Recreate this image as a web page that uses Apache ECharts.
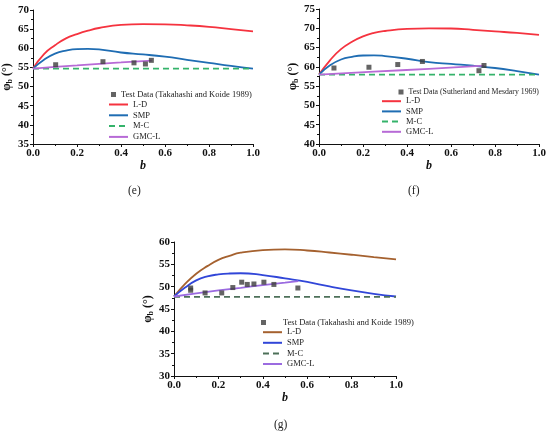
<!DOCTYPE html>
<html><head><meta charset="utf-8">
<script src="https://cdn.jsdelivr.net/npm/echarts/dist/echarts.min.js"></script>
<style>html,body{margin:0;padding:0;background:#fff}#c{width:550px;height:434px}</style>
</head><body><div id="c"></div>
<script>
// ---------- data ----------
const xTickLabels = ['0.0','0.2','0.4','0.6','0.8','1.0'];
const curveB = [0, 0.05, 0.1, 0.15, 0.2, 0.25, 0.3, 0.4, 0.5, 0.6, 0.7, 0.8, 0.9, 1.0];

// (e)
const eLD  = [54.7, 58.5, 60.8, 62.6, 63.7, 64.6, 65.3, 66.1, 66.3, 66.25, 66.0, 65.6, 65.0, 64.4];
const eSMP = [54.7, 57.0, 58.6, 59.4, 59.8, 59.85, 59.7, 58.9, 58.4, 57.8, 57.0, 56.2, 55.4, 54.7];
const eMCB = [0, 1];
const eMC  = [54.7, 54.7];
const eGMCB = [0, 0.1, 0.2, 0.3, 0.4, 0.54];
const eGMC  = [54.7, 55.15, 55.55, 55.95, 56.3, 56.8];
const eTestB = [0.103, 0.318, 0.459, 0.511, 0.538];
const eTestV = [55.7, 56.5, 56.2, 55.9, 56.85];

// (f)
const fLD  = [58.0, 61.7, 64.6, 66.5, 67.9, 68.8, 69.3, 69.85, 70.0, 69.95, 69.6, 69.2, 68.8, 68.3];
const fSMP = [58.0, 60.4, 61.9, 62.6, 62.95, 63.0, 62.8, 62.1, 61.25, 60.75, 60.3, 59.7, 58.9, 58.0];
const fMCB = [0, 1];
const fMC  = [58.0, 58.0];
const fGMCB = [0, 0.25, 0.5, 0.75];
const fGMC  = [58.0, 58.75, 59.5, 60.3];
const fTestB = [0.068, 0.227, 0.358, 0.47, 0.727, 0.75];
const fTestV = [59.7, 59.9, 60.6, 61.4, 59.0, 60.35];

// (g)
const gLD  = [47.8, 50.6, 52.9, 54.6, 56.0, 56.9, 57.6, 58.2, 58.35, 58.1, 57.65, 57.15, 56.6, 56.1];
const gSMP = [47.8, 49.8, 51.4, 52.3, 52.75, 52.95, 53.0, 52.6, 51.85, 51.05, 50.05, 49.15, 48.4, 47.8];
const gMCB = [0, 1];
const gMC  = [47.7, 47.7];
const gGMCB = [0, 0.1, 0.2, 0.3, 0.4, 0.5, 0.56];
const gGMC  = [47.8, 48.5, 49.15, 49.75, 50.35, 50.9, 51.25];
const gTestB = [0.075, 0.075, 0.14, 0.215, 0.265, 0.305, 0.33, 0.36, 0.405, 0.45, 0.558];
const gTestV = [49.7, 49.2, 48.6, 48.6, 49.8, 51.0, 50.5, 50.6, 51.0, 50.5, 49.7];

const yRanges = [[35, 70], [40, 75], [30, 60]];
const testNames = ['Test Data (Takahashi and Koide 1989)', 'Test Data (Sutherland and Mesdary 1969)', 'Test Data (Takahashi and Koide 1989)'];
const lineNames = ['L-D', 'SMP', 'M-C', 'GMC-L'];
const captions = ['(e)', '(f)', '(g)'];

// ---------- styling ----------
const FONT = 'Liberation Serif';
const palettes = [
  ['#f5333f', '#1f6db3', '#35b36b', '#b76ad6'],
  ['#f5333f', '#1f6db3', '#35b36b', '#b76ad6'],
  ['#a5612f', '#3146d8', '#4d7059', '#9b6be0']
];
const grids = [
  {left: 33, top: 10, width: 220, height: 134},
  {left: 319, top: 9, width: 220, height: 135},
  {left: 174, top: 242, width: 222, height: 134}
];
const legendPos = [
  {sq: [111, 90], sqPad: 0, sqFont: 8.5, ln: [108, 100], gap: 1.8},
  {sq: [398.5, 88], sqPad: 0, sqFont: 7.8, ln: [381, 96.7], gap: 1.2},
  {sq: [261, 318], sqPad: 12, sqFont: 8.5, ln: [262, 327.7], gap: 1.6}
];
const captionPos = [[128, 185], [408, 185], [274, 419]];

const pairs = (xs, ys) => xs.map((x, i) => [x, ys[i]]);
const panels = [
  {pre: 'e|', LD: eLD, SMP: eSMP, MCB: eMCB, MC: eMC, GB: eGMCB, G: eGMC, TB: eTestB, TV: eTestV},
  {pre: 'f|', LD: fLD, SMP: fSMP, MCB: fMCB, MC: fMC, GB: fGMCB, G: fGMC, TB: fTestB, TV: fTestV},
  {pre: 'g|', LD: gLD, SMP: gSMP, MCB: gMCB, MC: gMC, GB: gGMCB, G: gGMC, TB: gTestB, TV: gTestV}
];

const option = {
  backgroundColor: '#fff',
  animation: false,
  grid: grids.map(g => Object.assign({containLabel: false, outerBoundsMode: 'none'}, g)),
  title: captions.map((c, i) => ({
    text: c, left: captionPos[i][0], top: captionPos[i][1], padding: 0,
    textStyle: {fontFamily: FONT, fontWeight: 'normal', fontSize: 11.5, color: '#222'}
  })),
  xAxis: grids.map((g, i) => ({
    type: 'value', gridIndex: i, min: 0, max: 1, interval: 0.2,
    name: 'b', nameLocation: 'middle', nameGap: 15,
    nameTextStyle: {fontFamily: FONT, fontWeight: 'bold', fontStyle: 'italic', fontSize: 12, color: '#111'},
    axisLine: {show: true, onZero: false, lineStyle: {color: '#111', width: 1}},
    axisTick: {show: true, inside: false, length: 3, lineStyle: {color: '#111'}},
    minorTick: {show: true, splitNumber: 2, length: 2, lineStyle: {color: '#111'}},
    splitLine: {show: false}, minorSplitLine: {show: false},
    axisLabel: {margin: 4, fontFamily: FONT, fontWeight: 'bold', fontSize: 11, color: '#111',
      formatter: v => xTickLabels[Math.round(v / 0.2)]}
  })),
  yAxis: grids.map((g, i) => ({
    type: 'value', gridIndex: i, min: yRanges[i][0], max: yRanges[i][1], interval: 5,
    name: 'φ{s|b} (°)', nameLocation: 'middle', nameRotate: 90, nameGap: 19,
    nameTextStyle: {fontFamily: FONT, fontWeight: 'bold', fontSize: 12, color: '#111',
      rich: {s: {fontFamily: FONT, fontWeight: 'bold', fontSize: 8, color: '#111', verticalAlign: 'bottom', padding: [6, 0, 0, 0]}}},
    axisLine: {show: true, onZero: false, lineStyle: {color: '#111', width: 1}},
    axisTick: {show: true, inside: false, length: 3, lineStyle: {color: '#111'}},
    minorTick: {show: true, splitNumber: 2, length: 2, lineStyle: {color: '#111'}},
    splitLine: {show: false}, minorSplitLine: {show: false},
    axisLabel: {margin: 4, fontFamily: FONT, fontWeight: 'bold', fontSize: 11, color: '#111'}
  })),
  legend: [],
  series: []
};

panels.forEach((p, i) => {
  const col = palettes[i];
  const base = {type: 'line', xAxisIndex: i, yAxisIndex: i, symbol: 'none', smooth: true, z: 2};
  option.series.push(Object.assign({}, base, {name: p.pre + 'L-D', data: pairs(curveB, p.LD),
    lineStyle: {color: col[0], width: 1.8}, itemStyle: {color: col[0]}}));
  option.series.push(Object.assign({}, base, {name: p.pre + 'SMP', data: pairs(curveB, p.SMP),
    lineStyle: {color: col[1], width: 1.8}, itemStyle: {color: col[1]}}));
  option.series.push(Object.assign({}, base, {name: p.pre + 'M-C', data: pairs(p.MCB, p.MC), smooth: false,
    lineStyle: {color: col[2], width: 1.8, type: [6, 4]}, itemStyle: {color: col[2]}}));
  option.series.push(Object.assign({}, base, {name: p.pre + 'GMC-L', data: pairs(p.GB, p.G),
    lineStyle: {color: col[3], width: 1.8}, itemStyle: {color: col[3]}}));
  option.series.push({type: 'scatter', xAxisIndex: i, yAxisIndex: i, name: p.pre + 'T',
    data: pairs(p.TB, p.TV), symbol: 'rect', symbolSize: 5, z: 3, itemStyle: {color: '#3d3d3d'}});

  const lp = legendPos[i];
  option.legend.push({
    orient: 'vertical', left: lp.sq[0], top: lp.sq[1], padding: 0, selectedMode: false,
    itemWidth: 5, itemHeight: 5, data: [p.pre + 'T'],
    formatter: () => '{t|' + testNames[i] + '}',
    textStyle: {fontFamily: FONT, fontSize: lp.sqFont, color: '#222',
      rich: {t: {fontFamily: FONT, fontSize: lp.sqFont, color: '#222', padding: [0, 0, 0, lp.sqPad]}}}
  });
  option.legend.push({
    orient: 'vertical', left: lp.ln[0], top: lp.ln[1], padding: 0, selectedMode: false,
    itemWidth: 19, itemHeight: 8, itemGap: lp.gap,
    itemStyle: {opacity: 0, borderWidth: 0},
    data: lineNames.map(n => p.pre + n),
    formatter: n => n.slice(2),
    textStyle: {fontFamily: FONT, fontSize: 8.5, color: '#222', lineHeight: 8}
  });
});

const chart = echarts.init(document.getElementById('c'), null, {renderer: 'canvas'});
chart.setOption(option);
</script>
</body></html>
